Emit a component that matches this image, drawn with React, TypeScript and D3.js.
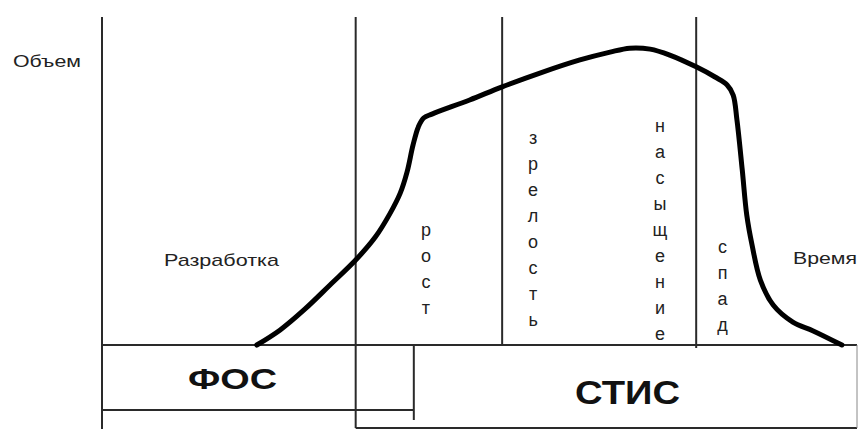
import React from "react";
import * as d3 from "d3";

// Product life-cycle curve: time (0..100) vs volume (0..100)
const curveTime = [20.5, 23.6, 26.9, 30.2, 33.6, 36.2, 38.1, 39.5, 40.4, 41.2, 41.9, 42.6, 43.7, 48.7, 53.0, 58.0, 63.3, 67.3, 69.9, 72.6, 75.2, 78.7, 81.2, 82.8, 83.6, 84.1, 84.8, 85.4, 86.1, 87.2, 88.9, 91.5, 94.2, 98.0];
const curveVolume = [0, 4.6, 11.0, 18.3, 25.9, 32.9, 39.9, 46.3, 52.7, 61.0, 66.5, 69.2, 70.4, 74.7, 78.7, 82.9, 86.9, 89.3, 90.5, 90.2, 88.4, 84.8, 81.7, 79.3, 76.2, 68.6, 53.4, 39.6, 30.5, 19.8, 12.2, 7.0, 4.3, 0];

// Phase boundaries on the time axis
const phaseBounds = [0, 33.6, 53.0, 78.7];
const fosEnd = 41.3;
const stisEnd = 100;

const stageWords = ["рост", "зрелость", "насыщение", "спад"];
const stageTimes = [42.9, 57.1, 73.9, 82.2];
const stageStartVolume = [34.8, 62.8, 66.5, 29.6];

const W = 858;
const H = 429;

export default function App() {
  const x = d3.scaleLinear().domain([0, 100]).range([102, 857]);
  const y = d3.scaleLinear().domain([0, 100]).range([345, 17]);

  const pts: [number, number][] = curveTime.map((t, i) => [x(t), y(curveVolume[i])]);
  const line = d3.line().curve(d3.curveCatmullRom.alpha(0.5))(pts) || "";

  const stroke = "#2a2a2a";
  const font = "'Liberation Sans', Arial, sans-serif";
  const letterStep = 26;

  return (
    <svg width={W} height={H} style={{ position: "absolute", left: 0, top: 0, background: "#fff" }}>
      <rect x={0} y={0} width={W} height={H} fill="#fff" />
      {/* vertical phase lines */}
      <line x1={x(phaseBounds[0])} x2={x(phaseBounds[0])} y1={y(100)} y2={429} stroke={stroke} strokeWidth={2} />
      <line x1={x(phaseBounds[1])} x2={x(phaseBounds[1])} y1={y(100)} y2={428} stroke={stroke} strokeWidth={2} />
      <line x1={x(phaseBounds[2])} x2={x(phaseBounds[2])} y1={y(100)} y2={y(0)} stroke={stroke} strokeWidth={2} />
      <line x1={x(phaseBounds[3])} x2={x(phaseBounds[3])} y1={y(100)} y2={y(0) + 3} stroke={stroke} strokeWidth={2} />
      {/* time axis / top of boxes */}
      <line x1={x(0)} x2={x(stisEnd)} y1={y(0)} y2={y(0)} stroke={stroke} strokeWidth={2} />
      {/* FOS box */}
      <line x1={x(0)} x2={x(fosEnd)} y1={410} y2={410} stroke={stroke} strokeWidth={2} />
      <line x1={x(fosEnd)} x2={x(fosEnd)} y1={y(0)} y2={420} stroke={stroke} strokeWidth={2} />
      {/* STIS box */}
      <line x1={x(phaseBounds[1])} x2={x(stisEnd)} y1={428} y2={428} stroke={stroke} strokeWidth={2} />
      <line x1={x(stisEnd)} x2={x(stisEnd)} y1={y(0)} y2={428} stroke="#888" strokeWidth={1} />

      {/* curve */}
      <path d={line} fill="none" stroke="#000" strokeWidth={5} strokeLinejoin="round" strokeLinecap="round" />

      {/* labels */}
      <text x={13} y={67} fontFamily={font} fontSize={17} textLength={68} lengthAdjust="spacingAndGlyphs" fill="#222">Объем</text>
      <text x={164} y={266} fontFamily={font} fontSize={17} textLength={115} lengthAdjust="spacingAndGlyphs" fill="#222">Разработка</text>
      <text x={793} y={264} fontFamily={font} fontSize={17} textLength={64} lengthAdjust="spacingAndGlyphs" fill="#222">Время</text>
      <text x={188} y={389} fontFamily={font} fontSize={30} fontWeight="bold" textLength={89} lengthAdjust="spacingAndGlyphs" fill="#111">ФОС</text>
      <text x={575} y={404} fontFamily={font} fontSize={34} fontWeight="bold" textLength={105} lengthAdjust="spacingAndGlyphs" fill="#111">СТИС</text>

      {stageWords.map((w, i) =>
        Array.from(w).map((ch, j) => (
          <text
            key={`${i}-${j}`}
            x={x(stageTimes[i])}
            y={y(stageStartVolume[i]) + j * letterStep + 5}
            fontFamily={font}
            fontSize={18}
            textAnchor="middle"
            fill="#222"
          >
            {ch}
          </text>
        ))
      )}
    </svg>
  );
}
